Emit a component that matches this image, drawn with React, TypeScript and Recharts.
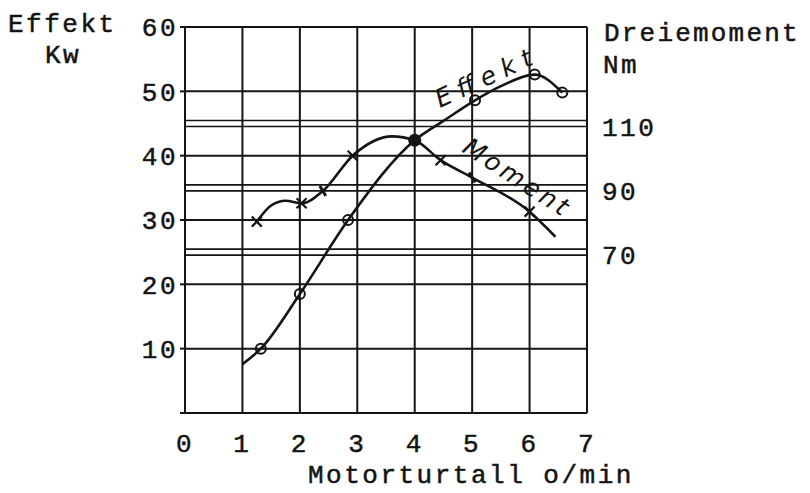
import { LineChart, Line, XAxis, YAxis, CartesianGrid, ReferenceLine, ReferenceDot } from 'recharts'

const W = 794
const H = 477
const ink = '#141414'
const mono = '"Liberation Mono", "DejaVu Sans Mono", monospace'
const hand = '"DejaVu Sans", "Liberation Sans", sans-serif'

// axes
const rpmTicks = [0, 1, 2, 3, 4, 5, 6, 7]
const effektTicks = [0, 10, 20, 30, 40, 50, 60]
const momentTicks = [70, 90, 110]

// Effekt (kW) against motor speed (1000 o/min)
const effektRpm = [1.0, 1.32, 2.0, 2.84, 4.0, 4.5, 5.05, 5.5, 6.09, 6.57]
const effektKw = [7.6, 10, 18.5, 30, 42.4, 45.4, 48.6, 50.8, 52.6, 49.8]
const effektMarks = ['', 'o', 'o', 'o', 'dot', '', 'o', '', 'o', 'o']

// Dreiemoment (Nm)
const momentRpm = [1.25, 1.5, 1.75, 2.03, 2.4, 2.92, 3.6, 4.0, 4.45, 5.0, 6.0, 6.45]
const momentNm = [79.5, 84.5, 86, 85.2, 89, 100, 106, 104.8, 98.6, 93.2, 82.6, 74.8]
const momentMarks = ['x', '', '', 'x', '-', 'x', '', '', 'x', '-', 'x', '']

const effektData = effektRpm.map((x, i) => ({ x, kw: effektKw[i], mark: effektMarks[i] }))
const momentData = momentRpm.map((x, i) => ({ x, nm: momentNm[i], mark: momentMarks[i] }))

// handwritten notes on the curves
const effektNote = { rpm: 5.21, kw: 51.8 }
const momentNote = { rpm: 5.75, nm: 93 }

function Mark(props: any) {
  const { cx, cy, payload, index } = props
  const k = payload?.mark
  const key = `m-${index}-${cx}`
  if (k === 'o') return <circle key={key} cx={cx} cy={cy} r={5} fill="none" stroke={ink} strokeWidth={2} />
  if (k === 'dot') return <circle key={key} cx={cx} cy={cy} r={6.5} fill={ink} />
  if (k === 'x')
    return (
      <path
        key={key}
        d={`M${cx - 5},${cy - 5}L${cx + 5},${cy + 5}M${cx - 5},${cy + 5}L${cx + 5},${cy - 5}`}
        stroke={ink}
        strokeWidth={2.2}
      />
    )
  if (k === '-')
    return <path key={key} d={`M${cx - 3},${cy - 5}L${cx + 3},${cy + 5}`} stroke={ink} strokeWidth={3} />
  return <g key={key} />
}

function DoubleLine(props: any) {
  const { x1, y1, x2, y2 } = props
  return (
    <g>
      <line x1={x1} x2={x2} y1={y1 - 3} y2={y2 - 3} stroke={ink} strokeWidth={1.7} />
      <line x1={x1} x2={x2} y1={y1 + 3} y2={y2 + 3} stroke={ink} strokeWidth={1.7} />
    </g>
  )
}

function Note({ cx, cy, text, angle, len }: any) {
  return (
    <text
      x={cx}
      y={cy}
      transform={`rotate(${angle} ${cx} ${cy})`}
      textAnchor="middle"
      dominantBaseline="middle"
      fontFamily={hand}
      fontStyle="italic"
      fontSize={25}
      textLength={len}
      lengthAdjust="spacing"
      fill={ink}
    >
      {text}
    </text>
  )
}

const tickStyle = { fill: ink, stroke: ink, strokeWidth: 0.5, fontSize: 26, fontFamily: mono, letterSpacing: 2.5 }
const titleStyle: any = { fill: ink, stroke: ink, strokeWidth: 0.5, fontSize: 26, fontFamily: mono, letterSpacing: 2.5 }

export default function App() {
  return (
    <div style={{ position: 'relative', width: W, height: H, background: '#fff' }}>
      <LineChart width={W} height={H} margin={{ top: 19, right: 135, bottom: 32, left: 117 }}>
        <CartesianGrid yAxisId="left" stroke={ink} strokeWidth={2} fill="none" />
        <XAxis
          type="number"
          dataKey="x"
          domain={[0, 7]}
          ticks={rpmTicks}
          interval={0}
          height={40}
          axisLine={false}
          tickLine={false}
          tickSize={0}
          tickMargin={21}
          tick={tickStyle}
        />
        <YAxis
          yAxisId="left"
          domain={[0, 60]}
          ticks={effektTicks}
          interval={0}
          width={60}
          axisLine={false}
          tickSize={5}
          tickMargin={2}
          tickLine={{ stroke: ink, strokeWidth: 2 }}
          tickFormatter={(v: number) => (v === 0 ? '' : String(v))}
          tick={tickStyle}
        />
        <YAxis
          yAxisId="right"
          orientation="right"
          domain={[20, 140]}
          ticks={momentTicks}
          interval={0}
          width={80}
          axisLine={false}
          tickLine={false}
          tickSize={0}
          tickMargin={15}
          tick={{ ...tickStyle, dy: 3 }}
        />
        {momentTicks.map((v) => (
          <ReferenceLine key={v} yAxisId="right" y={v} shape={DoubleLine} />
        ))}
        <Line
          yAxisId="left"
          data={effektData}
          dataKey="kw"
          type="monotone"
          stroke={ink}
          strokeWidth={2.6}
          dot={Mark}
          activeDot={false}
          isAnimationActive={false}
        />
        <Line
          yAxisId="right"
          data={momentData}
          dataKey="nm"
          type="monotone"
          stroke={ink}
          strokeWidth={2.6}
          dot={Mark}
          activeDot={false}
          isAnimationActive={false}
        />
        <ReferenceDot
          yAxisId="left"
          x={effektNote.rpm}
          y={effektNote.kw}
          r={0}
          shape={(p: any) => <Note cx={p.cx} cy={p.cy} text="Effekt" angle={-25} len={104} />}
        />
        <ReferenceDot
          yAxisId="right"
          x={momentNote.rpm}
          y={momentNote.nm}
          r={0}
          shape={(p: any) => <Note cx={p.cx} cy={p.cy} text="Moment" angle={33} len={120} />}
        />
      </LineChart>
      <svg
        width={W}
        height={H}
        overflow="visible"
        style={{ position: 'absolute', left: 0, top: 0, pointerEvents: 'none', overflow: 'visible' }}
      >
        <text x={0} y={24} {...titleStyle}>Effekt</text>
        <text x={37} y={55} {...titleStyle}>Kw</text>
        <text x={596} y={33} {...titleStyle} letterSpacing={2.2}>Dreiemoment</text>
        <text x={595} y={65} {...titleStyle}>Nm</text>
        <text x={300} y={475} {...titleStyle}>Motorturtall o/min</text>
      </svg>
    </div>
  )
}
